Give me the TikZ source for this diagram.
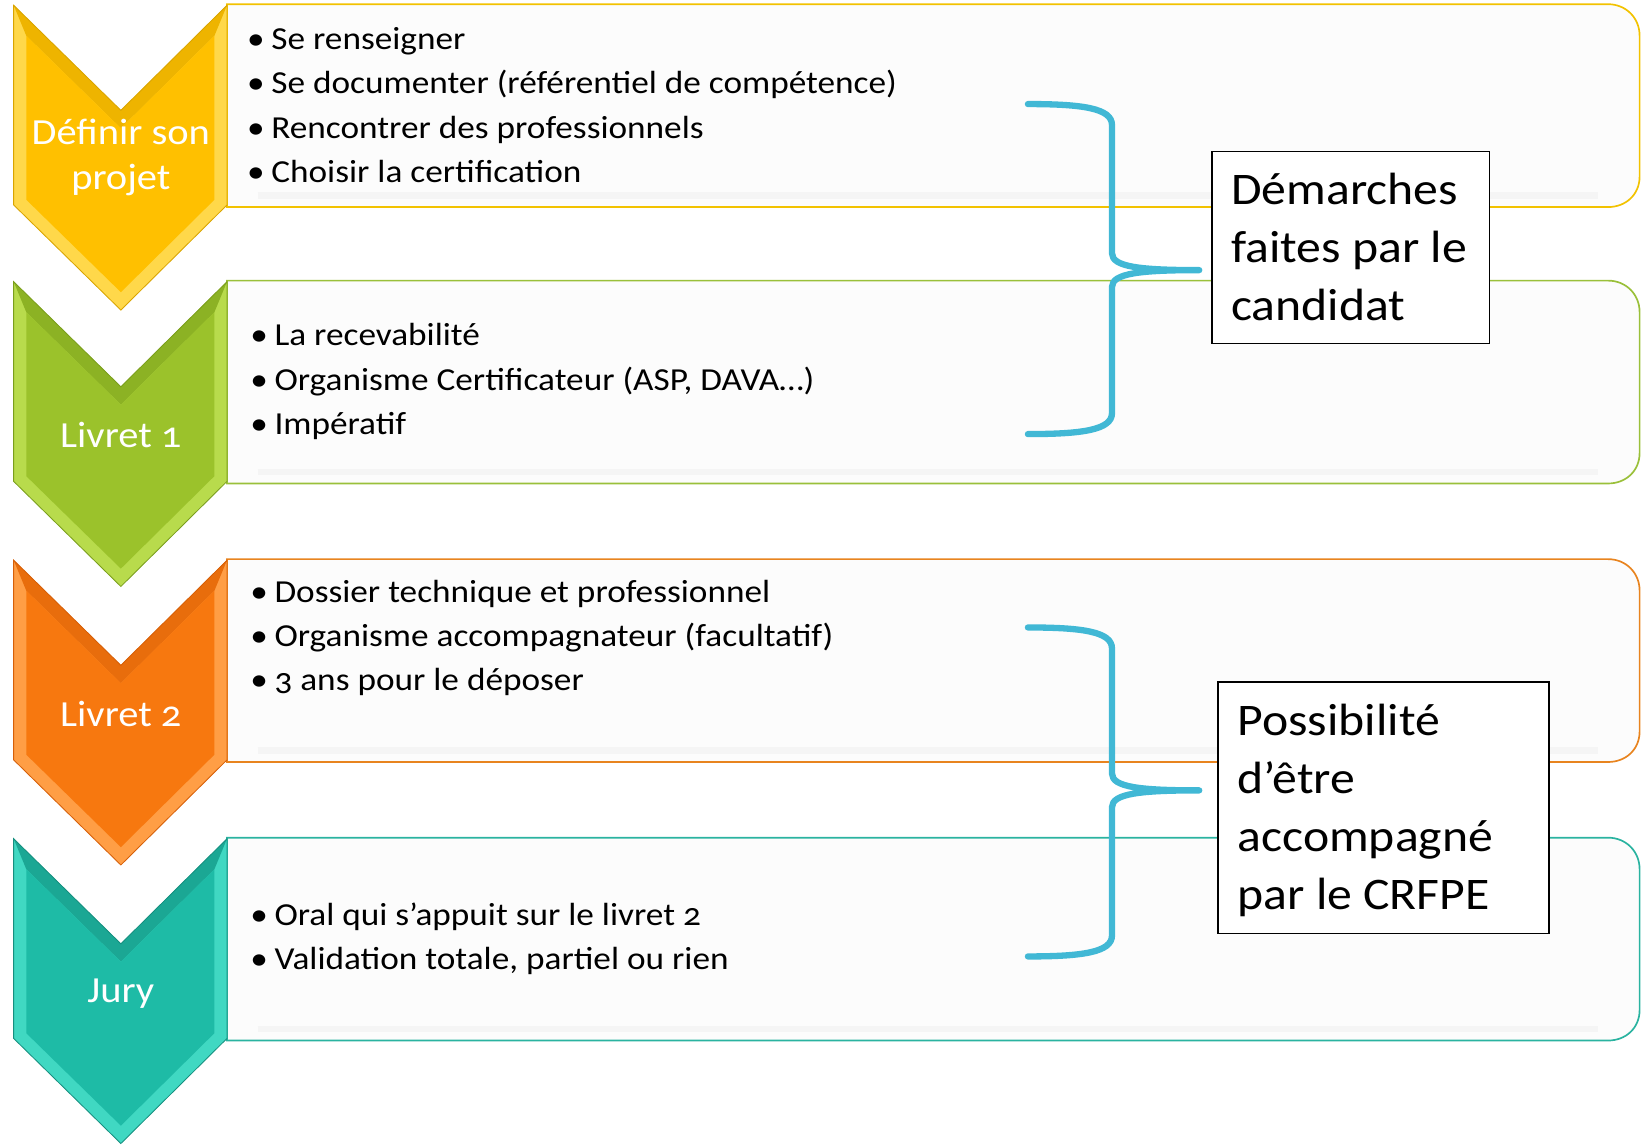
\documentclass[tikz,border=0pt]{standalone}
\usepackage{fontspec}
\setmainfont{Carlito}[Numbers=OldStyle, FakeStretch=1.1]
\definecolor{yMain}{HTML}{FFC000}
\definecolor{yLight}{HTML}{FFD84A}
\definecolor{yDark}{HTML}{D9A400}
\definecolor{yLine}{HTML}{F2C200}
\definecolor{gMain}{HTML}{9BC22B}
\definecolor{gLight}{HTML}{B8DB4C}
\definecolor{gDark}{HTML}{7A9E1C}
\definecolor{gLine}{HTML}{9AC03A}
\definecolor{oMain}{HTML}{F7780F}
\definecolor{oLight}{HTML}{FF9E45}
\definecolor{oDark}{HTML}{D65F08}
\definecolor{oLine}{HTML}{E8841F}
\definecolor{tMain}{HTML}{1EBBA6}
\definecolor{tLight}{HTML}{40D8C2}
\definecolor{tDark}{HTML}{168F7F}
\definecolor{tLine}{HTML}{2AB3A0}
\definecolor{braceBlue}{HTML}{41B8D5}
\definecolor{rectFill}{HTML}{FCFCFC}
\tikzset{
  rowrect/.style={fill=rectFill, line width=1.6pt},
  chevlabel/.style={text=white, font=\fontsize{35}{43}\selectfont, align=center, inner sep=0pt},
  bullets/.style={anchor=west, align=left, inner sep=0pt, font=\fontsize{30.5}{42}\selectfont},
  bracestyle/.style={draw=braceBlue, line width=6pt, line cap=round, line join=round},
  notebox/.style={draw=black, line width=1.4pt, fill=white, inner sep=0pt},
  boxtext/.style={anchor=west, inner sep=0pt, font=\fontsize{43}{55}\selectfont}
}
\newcommand\bul{\makebox[22pt][l]{\kern-1pt•}}
% #1 top y, #2 main, #3 light, #4 dark, #5 rect line
\newcommand\steprow[5]{%
  \draw[rowrect, draw=#5] (216,{#1-1}) -- (1530,{#1-1}) .. controls (1547,{#1-1}) and (1560,{#1+12}) .. (1560,{#1+29})
     -- (1560,{#1+163}) .. controls (1560,{#1+180}) and (1547,{#1+192}) .. (1530,{#1+192}) -- (216,{#1+192}) -- cycle;
  \draw[gray!8, line width=6pt] (245,{#1+181}) -- (1520,{#1+181});
  \fill[#3] (13,#1) -- (115,{#1+100}) -- (216,#1) -- (216,{#1+190}) -- (115,{#1+290}) -- (13,{#1+190}) -- cycle;
  \fill[#4!45!#2] (13,#1) -- (115,{#1+100}) -- (216,#1) -- (204,{#1+29}) -- (115,{#1+117}) -- (25,{#1+29}) -- cycle;
  \fill[#2] (25,{#1+29}) -- (115,{#1+117}) -- (204,{#1+29}) -- (204,{#1+185}) -- (115,{#1+273}) -- (25,{#1+185}) -- cycle;
  \draw[#4, line width=0.8pt, line join=miter] (13,#1) -- (115,{#1+100}) -- (216,#1) -- (216,{#1+190}) -- (115,{#1+290}) -- (13,{#1+190}) -- cycle;
}
\newcommand\bracket[3]{%
  \draw[bracestyle] (978,#1) .. controls (1030,#1) and (1058,{#1+4}) .. (1058,{#1+20})
     -- (1058,{#2-16}) .. controls (1058,{#2-3}) and (1085,#2) .. (1141,#2)
     .. controls (1085,#2) and (1058,{#2+3}) .. (1058,{#2+16})
     -- (1058,{#3-20}) .. controls (1058,{#3-4}) and (1030,#3) .. (978,#3);
}
\begin{document}
\begin{tikzpicture}[x=1pt,y=-1pt]
\useasboundingbox (0,0) rectangle (1568,1090);

\steprow{5}{yMain}{yLight}{yDark}{yLine}
\steprow{268}{gMain}{gLight}{gDark}{gLine}
\steprow{533}{oMain}{oLight}{oDark}{oLine}
\steprow{798}{tMain}{tLight}{tDark}{tLine}

\node[chevlabel] (c1) at (115,150) {Définir son\\projet};
\node[chevlabel] (c2) at (115,414) {Livret 1};
\node[chevlabel] (c3) at (115,679) {Livret 2};
\node[chevlabel] (c4) at (115,945) {Jury};

\node[bullets] (l1) at (236,100) {\bul Se renseigner\\\bul Se documenter (référentiel de compétence)\\\bul Rencontrer des professionnels\\\bul Choisir la certification};
\node[bullets] (l2) at (239,363) {\bul La recevabilité\\\bul Organisme Certificateur (ASP, DAVA…)\\\bul Impératif};
\node[bullets] (l3) at (239,607) {\bul Dossier technique et professionnel\\\bul Organisme accompagnateur (facultatif)\\\bul 3 ans pour le déposer};
\node[bullets] (l4) at (239,893) {\bul Oral qui s’appuit sur le livret 2\\\bul Validation totale, partiel ou rien};

\bracket{99}{257}{413}
\bracket{597}{752}{910}

\node[notebox, minimum width=264pt, minimum height=183pt] (b1) at (1285,235.5) {};
\node[boxtext] (t1) at ([xshift=19pt,yshift=-3pt]b1.west) {\begin{tabular}{@{}l@{}}Démarches\\faites par le\\candidat\end{tabular}};
\node[notebox, minimum width=315pt, minimum height=239pt] (b2) at (1316.5,768.5) {};
\node[boxtext] (t2) at ([xshift=19pt,yshift=-3pt]b2.west) {\begin{tabular}{@{}l@{}}Possibilité\\d’être\\accompagné\\par le CRFPE\end{tabular}};
\end{tikzpicture}
\end{document}
